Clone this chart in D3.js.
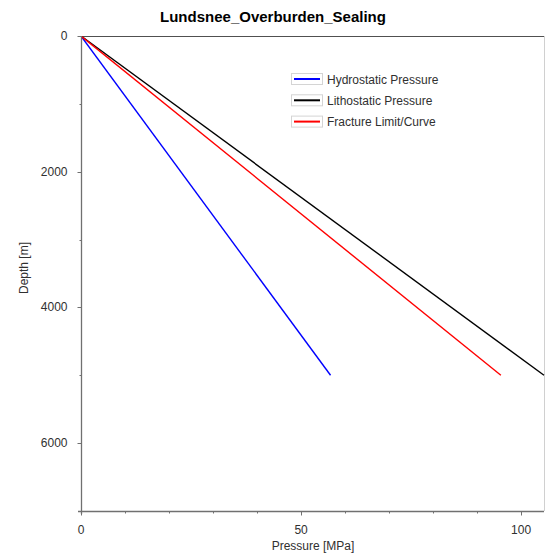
<!DOCTYPE html>
<html>
<head>
<meta charset="utf-8">
<script src="https://cdn.jsdelivr.net/npm/d3@7"></script>
<style>
  html, body { margin: 0; padding: 0; background: #fff; }
  svg { display: block; }
  text { font-family: "Liberation Sans", Arial, sans-serif; }
</style>
</head>
<body>
<script>
// Pressure profiles versus depth (straight gradients from surface to 5000 m)
const seriesNames = ["Hydrostatic Pressure", "Lithostatic Pressure", "Fracture Limit/Curve"];
const seriesColors = ["#0000ff", "#000000", "#ff0000"];
const depths = [0, 5000];
const hydrostatic = [0, 56.7];
const lithostatic = [0, 105.2];
const fracture = [0, 95.4];
const seriesValues = [hydrostatic, lithostatic, fracture];

const xMajorTicks = [0, 50, 100];
const xMinorTicks = [10, 20, 30, 40, 60, 70, 80, 90];
const yMajorTicks = [0, 2000, 4000, 6000];
const yMinorTicks = [1000, 3000, 5000];

const W = 545, H = 554;
const plotLeft = 81, plotTop = 36, plotRight = 544, plotBottom = 511;

const svg = d3.select("body").append("svg").attr("width", W).attr("height", H);

const x = d3.scaleLinear().domain([0, 105.2]).range([plotLeft, plotRight]);
const y = d3.scaleLinear().domain([0, 7000]).range([plotTop, plotBottom]);

// frame: top and right borders
svg.append("line").attr("x1", plotLeft).attr("x2", plotRight + 1).attr("y1", plotTop + 0.5).attr("y2", plotTop + 0.5)
  .attr("stroke", "#505050").attr("stroke-width", 1);
svg.append("line").attr("x1", plotRight + 0.5).attr("x2", plotRight + 0.5).attr("y1", plotTop).attr("y2", plotBottom)
  .attr("stroke", "#d0d0d0").attr("stroke-width", 1);

// clip for data lines
svg.append("clipPath").attr("id", "plotClip").append("rect")
  .attr("x", plotLeft).attr("y", plotTop).attr("width", plotRight - plotLeft + 1).attr("height", plotBottom - plotTop);

const line = d3.line().x(d => x(d[0])).y(d => y(d[1]));
const g = svg.append("g").attr("clip-path", "url(#plotClip)");
seriesValues.forEach((vals, i) => {
  g.append("path")
    .datum(vals.map((v, j) => [v, depths[j]]))
    .attr("d", line)
    .attr("fill", "none")
    .attr("stroke", seriesColors[i])
    .attr("stroke-width", 1.4);
});

// axes
const axisColor = "#707070";
const textColor = "#303030";
const xAxisG = svg.append("g").attr("transform", `translate(0,${plotBottom + 0.5})`);
xAxisG.append("line").attr("x1", plotLeft - 3).attr("x2", plotRight).attr("y1", 0).attr("y2", 0)
  .attr("stroke", axisColor).attr("stroke-width", 1.3);
xAxisG.selectAll("line.major").data(xMajorTicks).enter().append("line")
  .attr("x1", d => Math.round(x(d)) + 0.5).attr("x2", d => Math.round(x(d)) + 0.5)
  .attr("y1", 0).attr("y2", 4).attr("stroke", axisColor);
xAxisG.selectAll("line.minor").data(xMinorTicks).enter().append("line")
  .attr("x1", d => Math.round(x(d)) + 0.5).attr("x2", d => Math.round(x(d)) + 0.5)
  .attr("y1", 0).attr("y2", 2).attr("stroke", axisColor);
xAxisG.selectAll("text").data(xMajorTicks).enter().append("text")
  .attr("x", d => x(d)).attr("y", 22)
  .attr("text-anchor", "middle").attr("font-size", 12).attr("fill", textColor)
  .text(d => d);

const yAxisG = svg.append("g").attr("transform", `translate(${plotLeft + 0.5},0)`);
yAxisG.append("line").attr("x1", 0).attr("x2", 0).attr("y1", plotTop).attr("y2", plotBottom + 3)
  .attr("stroke", axisColor).attr("stroke-width", 1.3);
yAxisG.selectAll("line.major").data(yMajorTicks).enter().append("line")
  .attr("x1", -4).attr("x2", 0)
  .attr("y1", d => Math.round(y(d)) + 0.5).attr("y2", d => Math.round(y(d)) + 0.5)
  .attr("stroke", axisColor);
yAxisG.selectAll("line.minor").data(yMinorTicks).enter().append("line")
  .attr("x1", -2).attr("x2", 0)
  .attr("y1", d => Math.round(y(d)) + 0.5).attr("y2", d => Math.round(y(d)) + 0.5)
  .attr("stroke", axisColor);
yAxisG.selectAll("text").data(yMajorTicks).enter().append("text")
  .attr("x", -14).attr("y", d => y(d) + 4)
  .attr("text-anchor", "end").attr("font-size", 12).attr("fill", textColor)
  .text(d => d);

// axis titles
svg.append("text").attr("x", (plotLeft + plotRight) / 2 + 0.5).attr("y", 550)
  .attr("text-anchor", "middle").attr("font-size", 12).attr("fill", textColor)
  .text("Pressure [MPa]");
svg.append("text").attr("transform", `translate(28,268) rotate(-90)`)
  .attr("text-anchor", "middle").attr("font-size", 12).attr("fill", textColor)
  .text("Depth [m]");

// chart title
svg.append("text").attr("x", 273).attr("y", 22)
  .attr("text-anchor", "middle").attr("font-size", 15).attr("font-weight", "bold").attr("fill", "#000")
  .text("Lundsnee_Overburden_Sealing");

// legend
const legend = svg.append("g").attr("transform", "translate(291,79)");
seriesNames.forEach((name, i) => {
  const row = legend.append("g").attr("transform", `translate(0,${i * 21.3})`);
  row.append("rect").attr("x", 0.5).attr("y", -5.5).attr("width", 31).attr("height", 11)
    .attr("fill", "#fff").attr("stroke", "#d4d4d4");
  row.append("line").attr("x1", 3).attr("x2", 29).attr("y1", 0).attr("y2", 0)
    .attr("stroke", seriesColors[i]).attr("stroke-width", 2);
  row.append("text").attr("x", 36).attr("y", 4.5)
    .attr("font-size", 12).attr("fill", textColor).text(name);
});
</script>
</body>
</html>
